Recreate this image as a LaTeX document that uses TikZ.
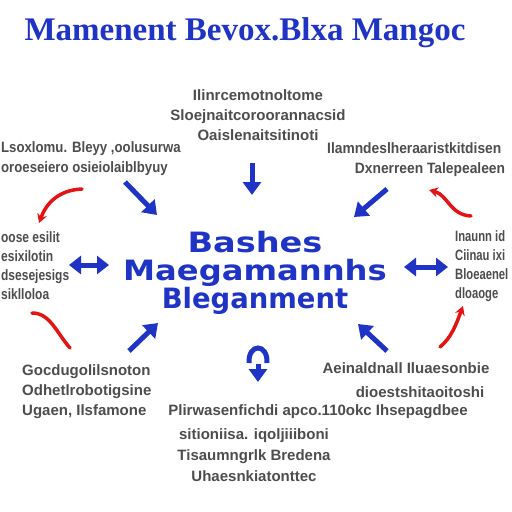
\documentclass[tikz,border=0pt]{standalone}
\usepackage{fontspec}
\setmainfont{Liberation Serif}
\setsansfont{Liberation Sans}
\newfontfamily\centrefont{DejaVu Sans}
\usetikzlibrary{arrows.meta}
\definecolor{titleblue}{HTML}{1F33C4}
\definecolor{textgray}{HTML}{4D4D4D}
\definecolor{arrowred}{HTML}{E41414}
\tikzset{
  garble/.style={font=\sffamily\bfseries\fontsize{15}{20}\selectfont, text=textgray, inner sep=0pt},
  bigblue/.style={font=\centrefont\bfseries\fontsize{28}{28}\selectfont, text=titleblue, inner sep=0pt, align=center},
  fatarrow/.style={draw=titleblue, line width=5pt, -{Triangle[length=13pt,width=18pt]}},
  twoway/.style={draw=titleblue, line width=5pt, {Triangle[length=12pt,width=18pt]}-{Triangle[length=12pt,width=18pt]}},
  redhook/.style={draw=arrowred, line width=3.5pt, line cap=round},
}

\begin{document}
\begin{tikzpicture}[x=1pt, y=-1pt]
  \useasboundingbox[fill=white] (0,0) rectangle (512,512);

  % title
  \node[font=\bfseries\fontsize{33}{33}\selectfont, text=titleblue, inner sep=0pt] (title) at (245,33) {Mamenent Bevox.Blxa Mangoc};

  % centre block
  \node[bigblue] (centre) at (255,273) {\scalebox{1.2}[1]{Bashes}\\\scalebox{1.15}[1]{Maegamannhs}\\\scalebox{0.98}[1]{Bleganment}};

  % text blocks round the centre
  \node[garble, align=center] (topmid) at (258,115) {Ilinrcemotnoltome\\Sloejnaitcoroorannacsid\\Oaislenaitsitinoti};
  \node[garble, align=left, anchor=west, xscale=0.88] (topleft) at (1,159) {Lsoxlomu. Bleyy ,oolusurwa\\oroeseiero osieiolaiblbyuy};
  \node[garble, anchor=west, xscale=0.92] (topright) at (327,148) {Ilamndeslheraaristkitdisen};
  \node[garble, xscale=0.92] (topright2) at (430,170) {Dxnerreen Talepealeen};
  \node[garble, align=left, anchor=west, xscale=0.8, font=\sffamily\bfseries\fontsize{15}{19}\selectfont] (midleft) at (1,266) {oose esilit\\esixilotin\\dsesejesigs\\siklloloa};
  \node[garble, align=left, anchor=west, xscale=0.75, font=\sffamily\bfseries\fontsize{15}{19}\selectfont] (midright) at (455,266) {Inaunn id\\Ciinau ixi\\Bloeaenel\\ dloaoge};
  \node[garble, align=left, anchor=west] (botleft) at (22,392) {Gocdugolilsnoton\\Odhetlrobotigsine\\Ugaen, Ilsfamone};
  \node[garble] (botright) at (406,368) {Aeinaldnall Iluaesonbie};
  \node[garble] (botright2) at (420,392) {dioestshitaoitoshi};
  \node[garble] (botmid) at (318,412) {Plirwasenfichdi apco.110okc Ihsepagdbee};
  \node[garble, align=center, font=\sffamily\bfseries\fontsize{15}{21}\selectfont] (botlow) at (254,455) {sitioniisa. iqoljiiiboni\\Tisaumngrlk Bredena\\Uhaesnkiatonttec};

  % blue arrows towards the centre
  \coordinate (dtop) at (252,163);   \coordinate (dtopend) at (252,195);
  \coordinate (ul) at (125,182);     \coordinate (ulend) at (157,215);
  \coordinate (ur) at (387,189);     \coordinate (urend) at (354,217);
  \coordinate (ll) at (129,351);     \coordinate (llend) at (158,323);
  \coordinate (lr) at (387,351);     \coordinate (lrend) at (358,324);
  \draw[fatarrow] (dtop) -- (dtopend);
  \draw[fatarrow] (ul) -- (ulend);
  \draw[fatarrow] (ur) -- (urend);
  \draw[fatarrow] (ll) -- (llend);
  \draw[fatarrow] (lr) -- (lrend);
  \coordinate (lw) at (69,265);      \coordinate (lwend) at (109,265);
  \coordinate (rw) at (404,267);     \coordinate (rwend) at (448,267);
  \draw[twoway] (lw) -- (lwend);
  \draw[twoway] (rw) -- (rwend);

  % the hooked arrow below the centre
  \coordinate (hookstart) at (249,363);
  \coordinate (hookend) at (267,363);
  \draw[draw=titleblue, line width=5pt] (hookstart) .. controls (248,343) and (268,343) .. (hookend);
  \coordinate (hooktip) at (258,382);
  \draw[fatarrow] (258,364) -- (hooktip);

  % red curved arrows at the four corners
  \draw[redhook, -{Stealth[length=9pt,width=10pt]}] (82,189) .. controls (58,190) and (46,204) .. (39,223);
  \draw[redhook] (32,313) .. controls (50,313) and (56,332) .. (70,348);
  \draw[redhook, {Stealth[length=9pt,width=10pt]}-] (429,190) .. controls (448,195) and (450,215) .. (471,216);
  \draw[redhook, {Stealth[length=9pt,width=10pt]}-] (463,306) .. controls (456,325) and (451,338) .. (440,347);
\end{tikzpicture}
\end{document}
